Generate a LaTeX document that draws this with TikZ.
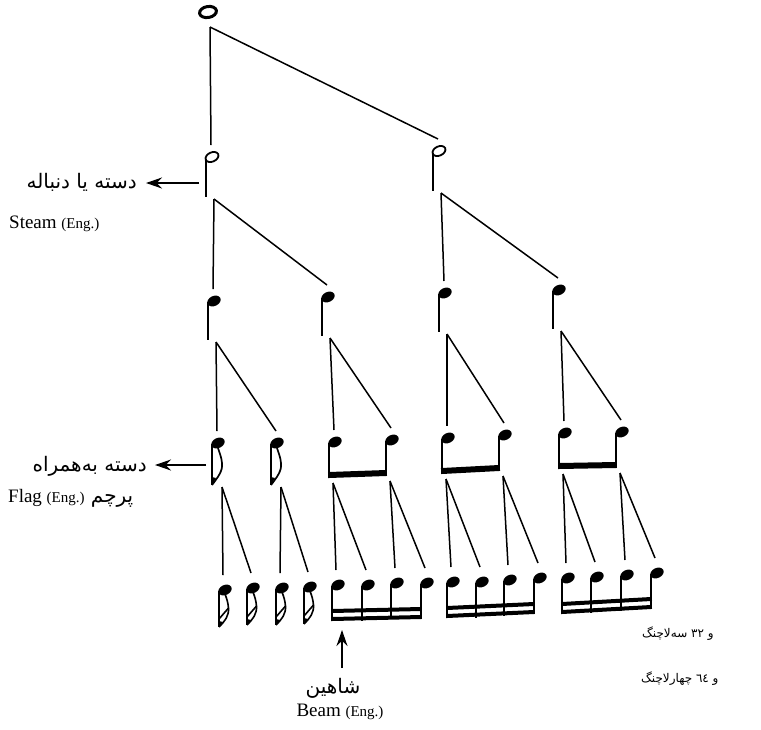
\documentclass[tikz,border=0pt]{standalone}
\usepackage{fontspec}
\setmainfont{Liberation Serif}
\newfontfamily\farsi[Script=Arabic]{DejaVu Sans}
\TeXXeTstate=1
\usetikzlibrary{arrows.meta}

\newcommand{\engsmall}{\fontsize{15}{18}\selectfont}

\tikzset{
  stemline/.style={line width=1.7pt},
  link/.style={line width=1.5pt},
  beam/.style={line width=#1, shorten <=-0.9pt, shorten >=-0.9pt},
  pointer/.style={line width=1.8pt, -{Stealth[length=16pt,width=11pt]}},
  falabel/.style={font=\farsi\fontsize{20}{24}\selectfont, inner sep=1pt},
  fasmall/.style={font=\farsi\fontsize{12}{14}\selectfont, inner sep=1pt},
  enlabel/.style={font=\fontsize{19}{22}\selectfont, inner sep=1pt},
  pics/whole/.style={code={
    \draw[line width=3pt, rotate=10] (0,0) ellipse (8.5 and 5.5);
    \coordinate (-foot) at (2,15);
  }},
  pics/half/.style={code={
    \draw[line width=1.8pt, rotate=25] (0,0) ellipse (6.8 and 4.6);
    \draw[stemline] (-6,2) -- (-6,40);
    \coordinate (-top) at (-1,-12);
    \coordinate (-foot) at (2,42);
  }},
  pics/quarter/.style={code={
    \fill[rotate=25] (0,0) ellipse (7 and 5);
    \draw[stemline] (-6,1) -- (-6,39);
    \coordinate (-top) at (-1,-12);
    \coordinate (-foot) at (2,41);
  }},
  pics/eighthflag/.style={code={
    \fill[rotate=25] (0,0) ellipse (7 and 5);
    \draw[stemline] (-6,1) -- (-6,42);
    \draw[line width=1.7pt] (-6,42) .. controls (0,34) and (5,28) .. (4,20)
      .. controls (3.5,14) and (1.5,10) .. (0,5);
    \fill (-6,42) -- (-6,34) -- (-2,35) -- cycle;
    \coordinate (-top) at (-1,-12);
    \coordinate (-foot) at (4,44);
  }},
  pics/beamed/.style={code={
    \fill[rotate=25] (0,0) ellipse (7 and 5);
    \draw[stemline] (-6,1) -- (-6,36);
    \coordinate (-beam) at (-6,33);
    \coordinate (-top) at (-1,-12);
    \coordinate (-foot) at (-2,41);
  }},
  pics/sixteenthflag/.style={code={
    \fill[rotate=25] (0,0) ellipse (7 and 5);
    \draw[stemline] (-6,1) -- (-6,37);
    \draw[line width=1.6pt] (-6,37) .. controls (0,31) and (4,26) .. (3.5,18)
      .. controls (3,12) and (1.5,8) .. (0,4);
    \draw[line width=1.6pt] (-6,29) -- (3.5,18);
    \fill (-6,37) -- (-6,31) -- (-2,32) -- cycle;
    \coordinate (-top) at (-2,-15);
  }},
  pics/beamedsix/.style={code={
    \fill[rotate=25] (0,0) ellipse (7 and 5);
    \draw[stemline] (-6,1) -- (-6,36);
    \coordinate (-beamlo) at (-6,34);
    \coordinate (-beamhi) at (-6,26);
    \coordinate (-top) at (-2,-15);
  }}
}

\begin{document}
\begin{tikzpicture}[x=1pt,y=-1pt]
  \useasboundingbox (0,0) rectangle (761,729);

  % notes, level by level
  \pic (w) at (208,12) {whole};
  \pic (h1) at (212,157) {half};
  \pic (h2) at (439,151) {half};
  \pic (q1) at (214,301) {quarter};
  \pic (q2) at (328,297) {quarter};
  \pic (q3) at (445,293) {quarter};
  \pic (q4) at (559,290) {quarter};
  \pic (e1) at (218,443) {eighthflag};
  \pic (e2) at (277,443) {eighthflag};
  \pic (e3) at (335,442) {beamed};
  \pic (e4) at (392,440) {beamed};
  \pic (e5) at (448,438) {beamed};
  \pic (e6) at (505,435) {beamed};
  \pic (e7) at (565,433) {beamed};
  \pic (e8) at (622,432) {beamed};
  \foreach \n/\x/\y in {1/225/590, 2/253/588, 3/282/588, 4/310/587}
    \pic (s\n) at (\x,\y) {sixteenthflag};
  \foreach \n/\x/\y in {5/338/585, 6/368/585, 7/397/583, 8/427/583,
                        9/453/582, 10/482/582, 11/510/580, 12/540/578,
                        13/568/578, 14/597/577, 15/627/575, 16/657/573}
    \pic (s\n) at (\x,\y) {beamedsix};

  % beams
  \foreach \a/\b in {e3/e4, e5/e6, e7/e8}
    \draw[beam=6pt] (\a-beam) -- (\b-beam);
  \foreach \a/\b in {s5/s8, s9/s12, s13/s16} {
    \draw[beam=4pt] (\a-beamlo) -- (\b-beamlo);
    \draw[beam=4pt] (\a-beamhi) -- (\b-beamhi);
  }

  % tree lines
  \foreach \a/\b in {w/h1, w/h2, h1/q1, h1/q2, h2/q3, h2/q4,
                     q1/e1, q1/e2, q2/e3, q2/e4, q3/e5, q3/e6, q4/e7, q4/e8,
                     e1/s1, e1/s2, e2/s3, e2/s4, e3/s5, e3/s6, e4/s7, e4/s8,
                     e5/s9, e5/s10, e6/s11, e6/s12, e7/s13, e7/s14, e8/s15, e8/s16}
    \draw[link] (\a-foot) -- (\b-top);

  % labels
  \node[falabel, anchor=base east] (stemfa) at (138,188) {\beginR دسته یا دنباله\endR};
  \node[enlabel, anchor=base west] (stemen) at (8,228) {Steam {\engsmall(Eng.)}};
  \coordinate (stemtail) at (199,183);
  \draw[pointer, shorten >=8pt] (stemtail) -- (stemtail -| stemfa.east);

  \node[falabel, anchor=base east] (flagfa) at (148,471) {\beginR دسته به‌همراه\endR};
  \node[enlabel, anchor=base west] (flagen) at (7,502)
    {Flag {\engsmall(Eng.)} {\farsi\fontsize{20}{24}\selectfont\beginR پرچم\endR}};
  \coordinate (flagtail) at (206,465);
  \draw[pointer, shorten >=7pt] (flagtail) -- (flagtail -| flagfa.east);

  \node[falabel, anchor=base] (beamfa) at (333,693) {\beginR شاهین\endR};
  \node[enlabel, anchor=base] (beamen) at (340,716) {Beam {\engsmall(Eng.)}};
  \coordinate (beamtail) at (342,668);
  \coordinate (beamtip) at (342,630);
  \draw[pointer] (beamtail) -- (beamtip);

  \node[fasmall, anchor=base west] (thirtytwo) at (641,637)
    {\beginR و \beginL ٣٢\endL{} سه‌لاچنگ\endR};
  \node[fasmall, anchor=base west] (sixtyfour) at (640,682)
    {\beginR و \beginL ٦٤\endL{} چهارلاچنگ\endR};
\end{tikzpicture}
\end{document}
